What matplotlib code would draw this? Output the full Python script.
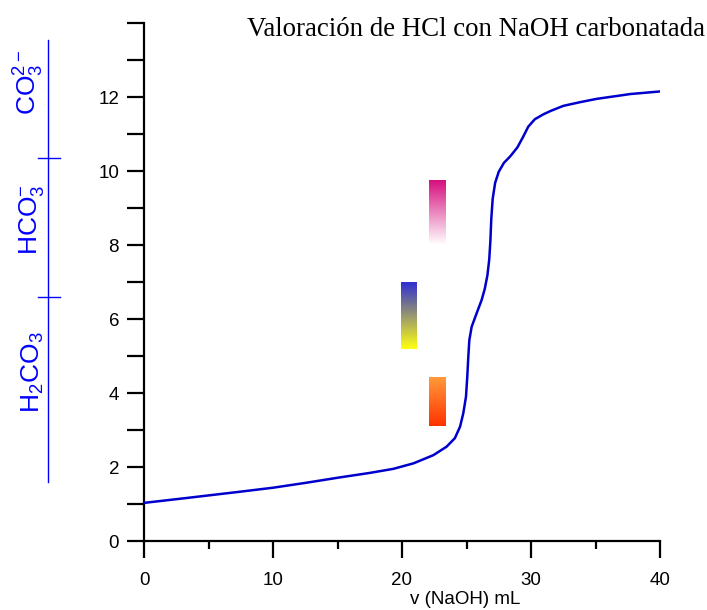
#%% Library
import numpy as np
import matplotlib.pyplot as plt
from matplotlib.colors import to_rgb
from matplotlib.transforms import blended_transform_factory
from matplotlib.ticker import MultipleLocator

plt.rcParams['font.family'] = ['Liberation Sans', 'DejaVu Sans']
plt.rcParams['mathtext.fontset'] = 'custom'
plt.rcParams['mathtext.rm'] = 'Liberation Sans'
plt.rcParams['mathtext.it'] = 'Liberation Sans:italic'

#%% data: titration curve read point by point
v_naoh = [0, 3.0, 7.4, 10.0, 12.5, 15.2, 17.5, 19.33, 20.9, 22.43, 23.46,
          24.1, 24.5, 24.75, 24.96, 25.06, 25.14, 25.22, 25.4, 25.78, 26.17,
          26.42, 26.62, 26.76, 26.85, 26.92, 27.03, 27.22, 27.5, 27.9, 28.4,
          28.95, 29.4, 29.79, 30.3, 30.95, 31.5, 32.5, 33.8, 35.1, 37.7, 40]
ph = [1.03, 1.15, 1.33, 1.44, 1.57, 1.72, 1.84, 1.95, 2.1, 2.32, 2.55,
      2.78, 3.09, 3.45, 3.9, 4.44, 4.98, 5.43, 5.79, 6.15, 6.51,
      6.82, 7.18, 7.6, 8.1, 8.7, 9.25, 9.68, 9.98, 10.22, 10.4,
      10.64, 10.93, 11.2, 11.4, 11.53, 11.62, 11.76, 11.86, 11.95, 12.08, 12.15]

# indicators: x range (mL), pH range, colour at low pH, colour at high pH
indicators = {
    'naranja de metilo': ([22.1, 23.35], [3.1, 4.4], '#ff3300', '#ff9a3a'),
    'azul de bromotimol': ([19.9, 21.1], [5.2, 7.0], '#ffff10', '#3030d0'),
    'fenolftaleina': ([22.1, 23.35], [8.0, 9.75], '#ffffff', '#d6107f'),
}

# carbonate species and pKa boundaries
especies = [r'H$_2$CO$_3$', r'HCO$_3^{-}$', r'CO$_3^{2-}$']
especies_ph = [4.57, 8.68, 12.4]
pka = [6.6, 10.35]
rango_ph = [1.6, 13.55]

#%% plot
fig = plt.figure(figsize=(7.07, 6.10), dpi=100)
ax = fig.add_axes([144/707, 69/610, 516/707, 518/610])

ax.plot(v_naoh, ph, color='#0000cc', lw=1.8, zorder=3, solid_joinstyle='round')

for name, (xr, pr, c0, c1) in indicators.items():
    c0 = np.array(to_rgb(c0))
    c1 = np.array(to_rgb(c1))
    t = np.linspace(0, 1, 64)[:, None]
    grad = (c0 * (1 - t) + c1 * t)[:, None, :]
    ax.imshow(grad, extent=[xr[0], xr[1], pr[0], pr[1]], origin='lower',
              aspect='auto', interpolation='bilinear', zorder=2)

ax.set_xlim(0, 40)
ax.set_ylim(0, 14)
for s in ['top', 'right']:
    ax.spines[s].set_visible(False)
for s in ['left', 'bottom']:
    ax.spines[s].set_linewidth(1.6)

ax.xaxis.set_major_locator(MultipleLocator(10))
ax.xaxis.set_minor_locator(MultipleLocator(5))
ax.set_yticks(range(0, 15, 2))
ax.set_yticklabels([str(i) for i in range(0, 13, 2)] + [''])
ax.yaxis.set_minor_locator(MultipleLocator(1))
ax.tick_params(axis='x', which='major', length=12, width=1.6, labelsize=13.5, pad=10)
ax.tick_params(axis='x', which='minor', length=6, width=1.6)
ax.tick_params(axis='y', which='both', length=12, width=1.6, labelsize=13.5, pad=6)

fig.text(465/707, 1 - 591/610, 'v (NaOH) mL', ha='center', va='top', fontsize=13.5)
fig.text(705/707, 1 - 29/610, 'Valoración de HCl con NaOH carbonatada',
         ha='right', va='center', fontsize=19.4, family='Liberation Serif')

# species scale on the left
tr = blended_transform_factory(ax.transAxes, ax.transData)
xs = -96/516
ax.plot([xs, xs], rango_ph, color='blue', lw=1, transform=tr, clip_on=False)
for p in pka:
    ax.plot([-106/516, -84/516], [p, p], color='blue', lw=1, transform=tr, clip_on=False)
for lab, p in zip(especies, especies_ph):
    ax.text(-98/516, p, lab, color='blue', rotation=90, ha='right', va='center',
            fontsize=19, transform=tr)

fig.savefig('out.png', dpi=100)
